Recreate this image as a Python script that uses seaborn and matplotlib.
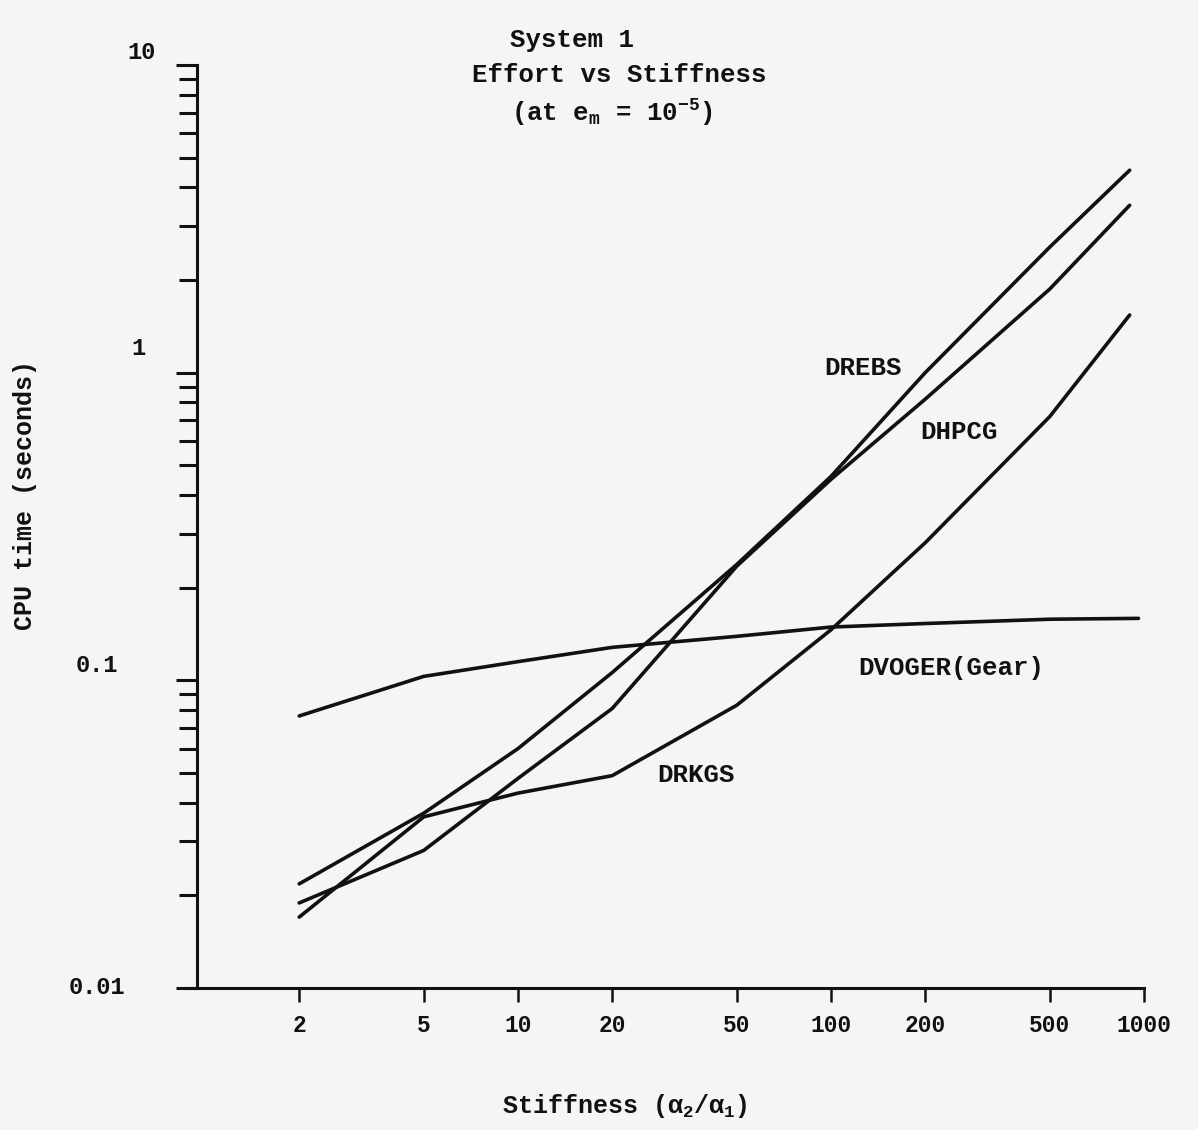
import numpy as np
import pandas as pd
import seaborn as sns
import matplotlib
matplotlib.use("Agg")
import matplotlib.pyplot as plt
import matplotlib.transforms as mtransforms
from matplotlib.ticker import LogLocator, NullFormatter
from matplotlib.lines import Line2D

# ---- data ----
stiffness = [2, 5, 10, 20, 50, 100, 200, 500, 900]
drebs = [0.0218, 0.037, 0.060, 0.106, 0.238, 0.46, 1.0, 2.56, 4.55]
dhpcg = [0.0189, 0.028, 0.048, 0.081, 0.235, 0.45, 0.82, 1.87, 3.5]
drkgs = [0.017, 0.036, 0.043, 0.049, 0.083, 0.146, 0.28, 0.72, 1.54]
dvoger_x = [2, 5, 10, 20, 50, 100, 200, 500, 960]
dvoger = [0.0766, 0.103, 0.115, 0.128, 0.139, 0.149, 0.153, 0.158, 0.159]

methods = ["DREBS", "DHPCG", "DRKGS", "DVOGER(Gear)"]
x_ticks = [2, 5, 10, 20, 50, 100, 200, 500, 1000]
x_tick_labels = ["2", "5", "10", "20", "50", "100", "200", "500", "1000"]
y_ticks = [0.01, 0.1, 1, 10]
y_tick_labels = ["0.01", "0.1", "1", "10"]

title_lines = ["System 1", "Effort vs Stiffness",
               r"(at $\mathregular{e_m}$ = $\mathregular{10^{-5}}$)"]
x_label = r"Stiffness ($\mathregular{α_2/α_1}$)"
y_label = "CPU time (seconds)"

df = pd.concat([
    pd.DataFrame({"stiffness": stiffness, "cpu": drebs, "method": methods[0]}),
    pd.DataFrame({"stiffness": stiffness, "cpu": dhpcg, "method": methods[1]}),
    pd.DataFrame({"stiffness": stiffness, "cpu": drkgs, "method": methods[2]}),
    pd.DataFrame({"stiffness": dvoger_x, "cpu": dvoger, "method": methods[3]}),
], ignore_index=True)

# ---- style ----
sns.set_theme(style="white")
plt.rcParams["font.family"] = ["Liberation Mono", "DejaVu Sans"]
plt.rcParams["font.weight"] = "bold"
plt.rcParams["mathtext.default"] = "regular"

bg = "#f5f5f4"
ink = "#111111"

fig = plt.figure(figsize=(11.98, 11.3), dpi=100, facecolor=bg)
ax = fig.add_axes([197 / 1198, 142 / 1130, 947 / 1198, 923 / 1130])
ax.set_facecolor(bg)

sns.lineplot(data=df, x="stiffness", y="cpu", hue="method", estimator=None,
             palette={m: ink for m in methods}, legend=False, linewidth=2.6,
             ax=ax, solid_capstyle="round", solid_joinstyle="round")

ax.set_xscale("log")
ax.set_yscale("log")
ax.set_xlim(0.943, 1000)
ax.set_ylim(0.01, 10)

for s in ["top", "right"]:
    ax.spines[s].set_visible(False)
for s in ["left", "bottom"]:
    ax.spines[s].set_color(ink)
    ax.spines[s].set_linewidth(2.2)
# small overhang of the x axis to the left of the y axis
ax.add_line(Line2D([-0.015, 0], [0, 0], transform=ax.transAxes, clip_on=False,
                   color=ink, linewidth=2.2))

ax.set_xticks(x_ticks, labels=x_tick_labels)
ax.xaxis.set_minor_locator(LogLocator(base=10, subs=[]))
ax.xaxis.set_minor_formatter(NullFormatter())
ax.set_yticks(y_ticks, labels=y_tick_labels)
ax.yaxis.set_minor_locator(LogLocator(base=10, subs=np.arange(2, 10)))
ax.yaxis.set_minor_formatter(NullFormatter())

ax.tick_params(axis="x", which="major", bottom=True, direction="out", length=10,
               width=1.8, color=ink, pad=9, labelsize=16.5, labelcolor=ink)
ax.tick_params(axis="y", which="major", left=True, direction="out", length=15,
               width=2.2, color=ink, pad=5, labelsize=17, labelcolor=ink)
ax.tick_params(axis="y", which="minor", left=True, direction="out", length=13,
               width=2.2, color=ink)

# nudge y tick labels to where the typed labels sit
offsets = {"10": (-14, 15), "1": (-24, 27), "0.1": (-51, 17), "0.01": (-44, 3)}
ylabels = ax.yaxis.get_majorticklabels()
for txt, lab in zip(y_tick_labels, ylabels):
    dx, dy = offsets[txt]
    lab.set_transform(lab.get_transform() +
                      mtransforms.ScaledTranslation(dx / 100, dy / 100, fig.dpi_scale_trans))

ax.set_xlabel(x_label, fontsize=18, color=ink, fontweight="bold")
ax.xaxis.set_label_coords(0.452, -0.113)
ax.set_ylabel(y_label, fontsize=18, color=ink, fontweight="bold")
ax.yaxis.label.set_va("center")
ax.yaxis.set_label_coords(-0.182, 0.534)

# curve labels
label_pos = {"DREBS": (127, 1.035), "DHPCG": (257, 0.641),
             "DVOGER(Gear)": (242, 0.110), "DRKGS": (37, 0.0492)}
for m in methods:
    lx, ly = label_pos[m]
    ax.text(lx, ly, m, ha="center", va="center", fontsize=18.5,
            color=ink, fontweight="bold")

# stacked title
fig.text(572 / 1198, 1 - 40 / 1130, title_lines[0], ha="center", va="center",
         fontsize=18.5, color=ink, fontweight="bold")
fig.text(619 / 1198, 1 - 75 / 1130, title_lines[1], ha="center", va="center",
         fontsize=18.5, color=ink, fontweight="bold")
fig.text(612 / 1198, 1 - 113 / 1130, title_lines[2], ha="center", va="center",
         fontsize=18.5, color=ink, fontweight="bold")

fig.savefig("out.png", dpi=100, facecolor=bg)
